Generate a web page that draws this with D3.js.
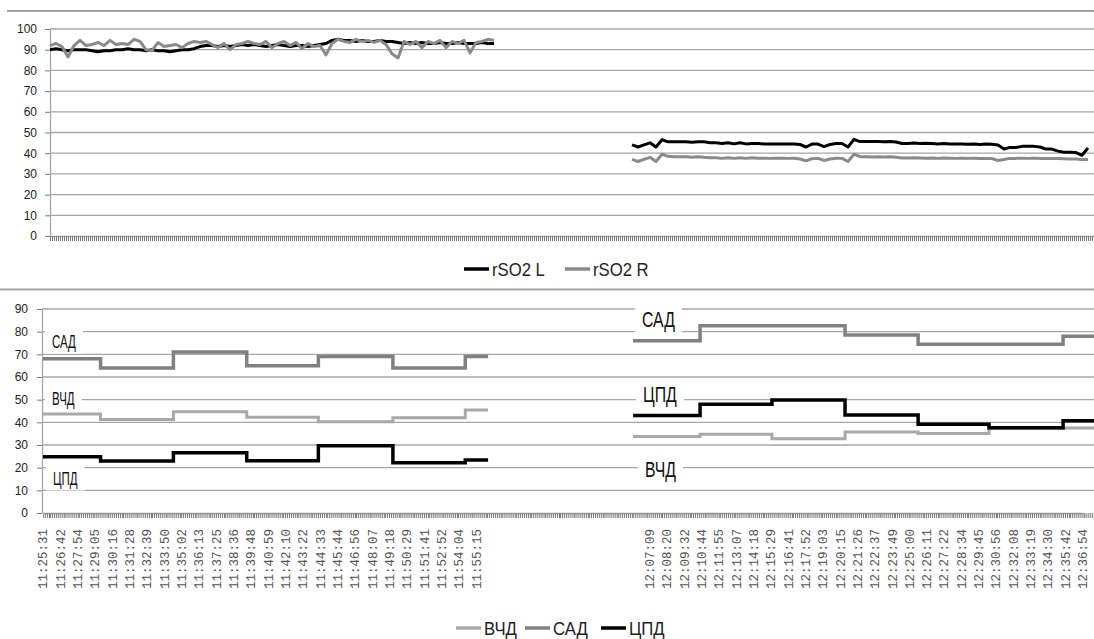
<!DOCTYPE html>
<html>
<head>
<meta charset="utf-8">
<script src="https://cdn.jsdelivr.net/npm/d3@7"></script>
<style>
  body { margin: 0; background: #fff; }
  svg { display: block; }
</style>
</head>
<body>
<svg id="chart" width="1094" height="639"></svg>
<script>
// ---------- top chart: rSO2 (sample index on x) ----------
const topYTicks = [0, 10, 20, 30, 40, 50, 60, 70, 80, 90, 100];
const topSampleCount = 174;

const rso2LeftStart = 0;
const rso2LeftL = [90, 90.5, 90, 89.5, 90, 90, 90, 89.5, 89, 89.5, 89.5, 90, 90, 90.5, 90, 90, 89.5, 90, 89.5, 89.5,
  89, 89.5, 90, 90, 90.5, 91.5, 92, 92, 91.5, 92, 91.5, 92, 92.5, 92, 92.5, 92, 91.5, 92, 92.5, 92,
  91.5, 92, 92, 91.5, 92, 92.5, 93, 94.5, 95, 94.5, 94.5, 94, 94.5, 94, 94, 94.5, 94, 94, 93.5, 93,
  93.5, 93, 93.5, 93, 93, 93.5, 93, 93, 93.5, 93, 93, 93, 93.5, 93, 93];
const rso2LeftR = [92, 93, 91.5, 86.5, 92, 94.5, 92, 92.5, 93.5, 92, 94.5, 92.5, 93, 92.5, 95, 94, 90, 89.5, 93.5, 91.5,
  92, 92.5, 91, 93, 94, 93.5, 94, 92.5, 91, 93, 90, 92.5, 93, 94, 93, 92.5, 94, 91, 93, 94,
  92, 93.5, 90.5, 93, 91.5, 92, 87.5, 93, 95, 94, 93.5, 95, 94, 94.5, 93.5, 94.5, 92.5, 88, 86, 94,
  92.5, 94, 91, 94, 93, 94.5, 91, 94, 93, 94.5, 88.5, 93.5, 94, 95, 94.5];

const rso2RightStart = 97;
const rso2RightL = [44, 43, 44, 45, 43, 46.5, 45.5, 45.5, 45.5, 45.5, 45.3, 45.5, 45.5, 45, 45, 44.7, 45, 44.5, 45, 44.5,
  44.7, 44.7, 44.4, 44.4, 44.5, 44.4, 44.4, 44.4, 44.2, 43, 44.4, 44.4, 43.2, 44.2, 44.7, 44.7, 43, 46.7, 45.6, 45.6,
  45.6, 45.6, 45.5, 45.6, 45.4, 44.7, 44.7, 44.9, 44.7, 44.8, 44.7, 44.5, 44.7, 44.4, 44.4, 44.5, 44.3, 44.4, 44.2, 44.4,
  44.3, 44, 42, 42.8, 42.8, 43.3, 43.3, 43.3, 43, 42, 42, 41, 40.5, 40.5, 40.3, 39, 42.5];
const rso2RightR = [37, 36, 37, 38, 36, 39.5, 38.5, 38.3, 38.3, 38.3, 38, 38.3, 38, 37.8, 37.8, 37.5, 37.8, 37.5, 37.8, 37.5,
  37.8, 37.6, 37.6, 37.5, 37.6, 37.6, 37.5, 37.6, 37.2, 36.3, 37.3, 37.5, 36.5, 37.2, 37.6, 37.5, 36, 39.5, 38.3, 38.3,
  38.2, 38.3, 38.2, 38.3, 38, 37.7, 37.7, 37.8, 37.7, 37.6, 37.7, 37.5, 37.7, 37.6, 37.5, 37.6, 37.5, 37.6, 37.4, 37.5,
  37.4, 36.5, 37, 37.5, 37.5, 37.6, 37.5, 37.6, 37.5, 37.5, 37.5, 37.4, 37.3, 37.2, 37.2, 37, 37];

// ---------- bottom chart: pressures (time on x) ----------
const bottomYTicks = [0, 10, 20, 30, 40, 50, 60, 70, 80, 90];
const timeLabelsLeft = ["11:25:31", "11:26:42", "11:27:54", "11:29:05", "11:30:16", "11:31:28", "11:32:39", "11:33:50",
  "11:35:02", "11:36:13", "11:37:25", "11:38:36", "11:39:48", "11:40:59", "11:42:10", "11:43:22", "11:44:33",
  "11:45:44", "11:46:56", "11:48:07", "11:49:18", "11:50:29", "11:51:41", "11:52:52", "11:54:04", "11:55:15"];
const timeLabelsRight = ["12:07:09", "12:08:20", "12:09:32", "12:10:44", "12:11:55", "12:13:07", "12:14:18", "12:15:29",
  "12:16:41", "12:17:52", "12:19:03", "12:20:15", "12:21:26", "12:22:37", "12:23:49", "12:25:00", "12:26:11",
  "12:27:22", "12:28:34", "12:29:45", "12:30:56", "12:32:08", "12:33:19", "12:34:30", "12:35:42", "12:36:54"];
const axisStart = "11:25:31";
const axisLastLabel = "12:36:54";
const axisEnd = "12:38:00";

const stepStartsLeft = ["11:25:31", "11:29:28", "11:34:28", "11:39:30", "11:44:25", "11:49:32", "11:54:30"];
const stepEndLeft = "11:56:04";
const stepStartsRight = ["12:06:01", "12:10:37", "12:15:33", "12:20:34", "12:25:35", "12:30:27", "12:35:32"];
const stepEndRight = "12:38:30";

const vchdLeft = [43.7, 41.3, 44.7, 42.2, 40.3, 42, 45.4];
const sadLeft = [68, 64, 71, 65, 69, 64, 69];
const cpdLeft = [24.8, 22.9, 26.6, 23, 29.7, 22.2, 23.4];
const vchdRight = [33.7, 34.7, 32.8, 35.7, 35.1, 37.3, 37.5];
const sadRight = [76, 82.6, 82.6, 78.5, 74.5, 74.5, 78];
const cpdRight = [43, 48, 49.8, 43.2, 39.1, 37.6, 40.7];

const notesLeft = [
  { text: "САД", t: "11:26:08", v: 72.8 },
  { text: "ВЧД", t: "11:26:08", v: 47.6 },
  { text: "ЦПД", t: "11:26:12", v: 12.4 }
];
const notesRight = [
  { text: "САД", t: "12:06:38", v: 82 },
  { text: "ЦПД", t: "12:06:42", v: 49 },
  { text: "ВЧД", t: "12:06:50", v: 15.9 }
];

// ---------- styles ----------
const FONT = "'Liberation Sans', Arial, sans-serif";
const GRID = "#a6a6a6";
const C_BLACK = "#000000";
const C_DARK = "#808080";
const C_LIGHT = "#a8a8a8";

const svg = d3.select("#chart");

// outer frame lines of the two Excel charts
svg.append("line").attr("x1", 7).attr("x2", 1094).attr("y1", 11).attr("y2", 11)
  .attr("stroke", GRID).attr("stroke-width", 2);
svg.append("line").attr("x1", 0).attr("x2", 1094).attr("y1", 289.5).attr("y2", 289.5)
  .attr("stroke", GRID).attr("stroke-width", 2);

function styleAxis(g) {
  g.selectAll(".domain").attr("stroke", GRID).attr("stroke-width", 1.3);
  g.selectAll(".tick line").attr("stroke", "#7a7a7a");
  g.selectAll("text").attr("fill", "#222").style("font-family", FONT).style("font-size", "12px");
}

// ================= TOP =================
const xTop = d3.scaleLinear().domain([0, topSampleCount]).range([50, 1094]);
const yTop = d3.scaleLinear().domain([0, 100]).range([236, 29]);
const gTop = svg.append("g");

gTop.append("g").selectAll("line")
  .data(topYTicks.filter(d => d > 0))
  .join("line")
  .attr("x1", 50).attr("x2", 1094)
  .attr("y1", d => yTop(d)).attr("y2", d => yTop(d))
  .attr("stroke", GRID).attr("stroke-width", 1.3);

gTop.append("g").attr("transform", "translate(50,0)")
  .call(d3.axisLeft(yTop).tickValues(topYTicks).tickSize(5).tickSizeOuter(0).tickPadding(8))
  .call(styleAxis);

gTop.append("g").attr("transform", "translate(0,236)")
  .call(d3.axisBottom(xTop).tickValues(d3.range(0, topSampleCount + 0.01, 1 / 3))
    .tickSize(5).tickSizeOuter(0).tickFormat(""))
  .call(styleAxis);

const topLine = d3.line().x(d => xTop(d[0])).y(d => yTop(d[1]));
const toPairs = (start, arr) => arr.map((v, i) => [start + i, v]);

[
  { vals: [rso2LeftL, rso2RightL], color: C_BLACK },
  { vals: [rso2LeftR, rso2RightR], color: "#8a8a8a" }
].forEach(s => {
  [toPairs(rso2LeftStart, s.vals[0]), toPairs(rso2RightStart, s.vals[1])].forEach(seg => {
    gTop.append("path").datum(seg)
      .attr("d", topLine)
      .attr("fill", "none")
      .attr("stroke", s.color)
      .attr("stroke-width", 3)
      .attr("stroke-linejoin", "round");
  });
});

// legend: line swatch + label
function legend(items, y) {
  const g = svg.append("g");
  items.forEach(it => {
    g.append("line").attr("x1", it.x).attr("x2", it.x + 25).attr("y1", y).attr("y2", y)
      .attr("stroke", it.color).attr("stroke-width", 3.5);
    g.append("text")
      .attr("transform", `translate(${it.x + 28},${y + 7}) scale(0.88,1)`)
      .style("font-family", FONT).style("font-size", "19px").attr("fill", "#222")
      .text(it.label);
  });
}
legend([
  { label: "rSO2 L", color: C_BLACK, x: 464 },
  { label: "rSO2 R", color: "#8a8a8a", x: 565 }
], 269);

// ================= BOTTOM =================
const parse = d3.timeParse("%H:%M:%S");
const xBot = d3.scaleTime().domain([parse(axisStart), parse(axisLastLabel)]).range([43, 1083]);
const yBot = d3.scaleLinear().domain([0, 90]).range([513, 309]);
const gBot = svg.append("g");

gBot.append("g").selectAll("line")
  .data(bottomYTicks.filter(d => d > 0))
  .join("line")
  .attr("x1", 42).attr("x2", 1094)
  .attr("y1", d => yBot(d)).attr("y2", d => yBot(d))
  .attr("stroke", GRID).attr("stroke-width", 1.3);

gBot.append("g").attr("transform", "translate(42,0)")
  .call(d3.axisLeft(yBot).tickValues(bottomYTicks).tickSize(5).tickSizeOuter(0).tickPadding(9))
  .call(styleAxis);

gBot.append("g").attr("transform", "translate(0,513)")
  .call(d3.axisBottom(xBot)
    .tickValues(d3.timeSecond.every(8).range(parse(axisStart), parse(axisEnd)))
    .tickSize(5).tickSizeOuter(0).tickFormat(""))
  .call(styleAxis);

// rotated time labels
gBot.append("g").selectAll("text")
  .data(timeLabelsLeft.concat(timeLabelsRight))
  .join("text")
  .attr("transform", d => `translate(${xBot(parse(d))},529) rotate(-90)`)
  .attr("text-anchor", "end")
  .attr("dy", "0.35em")
  .style("font-family", "'Liberation Mono', 'DejaVu Sans Mono', monospace")
  .style("font-size", "12.5px")
  .attr("fill", "#555")
  .text(d => d);

// step series
const steps = (starts, end, vals) =>
  starts.map((t, i) => ({ t: parse(t), v: vals[i] }))
    .concat([{ t: parse(end), v: vals[vals.length - 1] }]);
const stepLine = d3.line().x(d => xBot(d.t)).y(d => yBot(d.v)).curve(d3.curveStepAfter);

const defs = svg.append("defs");
defs.append("clipPath").attr("id", "clipBot")
  .append("rect").attr("x", 42).attr("y", 290).attr("width", 1052).attr("height", 240);

[
  { name: "ВЧД", left: vchdLeft, right: vchdRight, color: C_LIGHT, w: 3 },
  { name: "САД", left: sadLeft, right: sadRight, color: C_DARK, w: 3.5 },
  { name: "ЦПД", left: cpdLeft, right: cpdRight, color: C_BLACK, w: 3.5 }
].forEach(s => {
  [steps(stepStartsLeft, stepEndLeft, s.left), steps(stepStartsRight, stepEndRight, s.right)].forEach(seg => {
    gBot.append("path").datum(seg)
      .attr("clip-path", "url(#clipBot)")
      .attr("d", stepLine)
      .attr("fill", "none")
      .attr("stroke", s.color)
      .attr("stroke-width", s.w);
  });
});

// in-plot labels with white boxes
function notes(list, size, squeeze) {
  list.forEach(n => {
    const g = gBot.append("g")
      .attr("transform", `translate(${xBot(parse(n.t))},${yBot(n.v)}) scale(${squeeze},1)`);
    const rect = g.append("rect").attr("fill", "#fff");
    const txt = g.append("text")
      .style("font-family", FONT).style("font-size", size + "px").attr("fill", "#111")
      .text(n.text);
    const bb = txt.node().getBBox();
    const pad = 7 / squeeze;
    rect.attr("x", bb.x - pad).attr("y", bb.y - 3).attr("width", bb.width + 2 * pad).attr("height", bb.height + 5);
  });
}
notes(notesLeft, 18, 0.64);
notes(notesRight, 22, 0.72);

legend([
  { label: "ВЧД", color: C_LIGHT, x: 456 },
  { label: "САД", color: C_DARK, x: 525 },
  { label: "ЦПД", color: C_BLACK, x: 601 }
], 628);
</script>
</body>
</html>
